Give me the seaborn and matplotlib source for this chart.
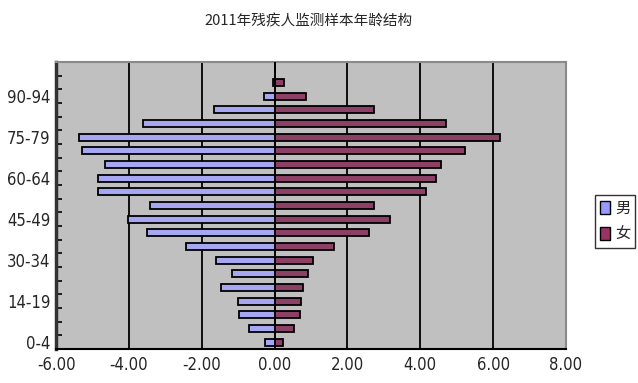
import matplotlib
matplotlib.use("Agg")
import matplotlib.pyplot as plt
import seaborn as sns
import pandas as pd
from matplotlib.patches import Patch

# ---- data (bottom to top) ----
age_groups = ["0-4", "5-9", "10-14", "14-19", "20-24", "25-29", "30-34", "35-39",
              "40-44", "45-49", "50-54", "55-59", "60-64", "65-69", "70-74",
              "75-79", "80-84", "85-89", "90-94", "95-99", "100+"]
male = [-0.27, -0.71, -0.97, -1.01, -1.48, -1.16, -1.62, -2.44, -3.50, -4.04,
        -3.42, -4.86, -4.86, -4.66, -5.30, -5.37, -3.62, -1.67, -0.30, -0.05, 0.0]
female = [0.23, 0.52, 0.70, 0.73, 0.78, 0.91, 1.05, 1.64, 2.60, 3.18,
          2.74, 4.16, 4.42, 4.57, 5.22, 6.18, 4.70, 2.72, 0.85, 0.25, 0.02]
shown_labels = ["0-4", "14-19", "30-34", "45-49", "60-64", "75-79", "90-94"]
series_names = ["男", "女"]
colors = ["#9999FF", "#993366"]
x_ticks = [-6, -4, -2, 0, 2, 4, 6, 8]

df = pd.DataFrame({
    "age": age_groups * 2,
    "value": male + female,
    "sex": [series_names[0]] * len(age_groups) + [series_names[1]] * len(age_groups),
})

sns.set_theme(style="white")
plt.rcParams["font.family"] = ["Noto Sans CJK SC", "DejaVu Sans"]

fig = plt.figure(figsize=(6.38, 3.83), dpi=100)
ax = fig.add_axes([0.088, 0.089, 0.799, 0.749])
ax.set_facecolor("#C0C0C0")

order = age_groups[::-1]
sns.barplot(data=df, y="age", x="value", hue="sex", order=order, orient="h",
            palette=colors, dodge=False, width=0.52, edgecolor="black",
            linewidth=1.3, ax=ax, legend=False, zorder=3)

ax.set_xlim(-6, 8)
ax.set_ylim(len(order) - 0.5, -0.5)
ax.set_xticks(x_ticks)
ax.set_xticklabels([f"{v:.2f}" for v in x_ticks], fontsize=12,
                   family=["DejaVu Sans"], fontstretch="condensed")
for v in x_ticks[1:-1]:
    if v != 0:
        ax.axvline(v, color="black", lw=1.3, zorder=1)
ax.axvline(0, color="black", lw=1.4, zorder=4)

pos = list(range(len(order)))
ax.set_yticks(pos)
ax.set_yticklabels([a if a in shown_labels else "" for a in order], fontsize=12,
                   family=["DejaVu Sans"], fontstretch="condensed")
ax.set_yticks([p + 0.5 for p in range(-1, len(order))], minor=True)
ax.tick_params(axis="y", which="minor", length=4, width=1.2, color="black",
               left=True, direction="in")
ax.tick_params(axis="y", which="major", length=0, pad=4)
ax.tick_params(axis="x", length=0, pad=5)
ax.set_xlabel("")
ax.set_ylabel("")

for s in ["top", "right"]:
    ax.spines[s].set_color("#8A8A8A")
    ax.spines[s].set_linewidth(1.5)
ax.spines["left"].set_color("#333333")
ax.spines["left"].set_linewidth(2.5)
ax.spines["bottom"].set_color("black")
ax.spines["bottom"].set_linewidth(1.5)

fig.text(0.484, 0.945, "2011年残疾人监测样本年龄结构", ha="center", va="center",
         fontsize=10.5)

handles = [Patch(facecolor=c, edgecolor="black", label=n) for n, c in zip(series_names, colors)]
leg = fig.legend(handles=handles, loc="center", bbox_to_anchor=(0.964, 0.422),
                 frameon=True, fancybox=False, fontsize=11, handlelength=0.7,
                 handleheight=0.9, handletextpad=0.3, borderpad=0.3,
                 labelspacing=0.6, borderaxespad=0)
leg.get_frame().set_edgecolor("black")
leg.get_frame().set_linewidth(1.0)

fig.savefig("out.png", dpi=100)
